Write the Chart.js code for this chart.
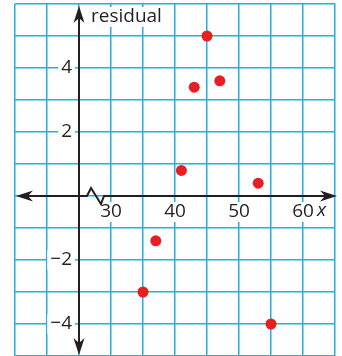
<!DOCTYPE html>
<html>
<head>
<meta charset="utf-8">
<title>Residual plot</title>
<script src="https://cdn.jsdelivr.net/npm/chart.js@4.4.1/dist/chart.umd.min.js"></script>
<style>
  html, body { margin: 0; padding: 0; background: #fff; }
  #chart-container { width: 342px; height: 356px; }
</style>
</head>
<body>
<div id="chart-container"><canvas id="residual-chart" width="342" height="356"></canvas></div>
<script>
// values
const xValues = [35, 37, 41, 43, 45, 47, 53, 55];
const residuals = [-3, -1.4, 0.8, 3.4, 5, 3.6, 0.4, -4];
const xTickLabels = [30, 40, 50, 60];
const yTickLabels = [4, 2, -2, -4];
const xAxisTitle = "x";
const yAxisTitle = "residual";
const yAxisAt = 25; // the y axis sits at x = 25 (broken x axis)

const inkColor = "#231f20";
const gridColor = "#1eb0e8";
const dotColor = "#ec1c24";
const labelFont = '19px "Open Sans", sans-serif';

// white box behind a text so the grid lines get cut around it
function boxedText(ctx, text, x, y, align, font) {
    ctx.font = font || labelFont;
    ctx.textAlign = align;
    ctx.textBaseline = "middle";
    const w = ctx.measureText(text).width;
    let left = x;
    if (align === "center") left = x - w / 2;
    if (align === "right") left = x - w;
    ctx.fillStyle = "#fff";
    ctx.fillRect(left - 3, y - 10, w + 6, 20);
    ctx.fillStyle = inkColor;
    ctx.fillText(text, x, y);
    return w;
}

// Draw axes, arrows, axis break and labels on top of the grid
const axesPlugin = {
    id: "axesPlugin",
    beforeDatasetsDraw(chart) {
        const ctx = chart.ctx;
        const xs = chart.scales.x;
        const ys = chart.scales.y;
        const area = chart.chartArea;
        const ox = xs.getPixelForValue(yAxisAt);
        const oy = ys.getPixelForValue(0);
        ctx.save();

        // tick labels
        yTickLabels.forEach(v => {
            const txt = v < 0 ? "\u2212" + Math.abs(v) : String(v);
            boxedText(ctx, txt, ox - 7, ys.getPixelForValue(v), "right");
        });
        xTickLabels.forEach(v => {
            boxedText(ctx, String(v), xs.getPixelForValue(v), oy + 16, "center");
        });
        // italic x after the last tick
        const lastX = xs.getPixelForValue(xTickLabels[xTickLabels.length - 1]);
        boxedText(ctx, xAxisTitle, lastX + 14, oy + 15, "left", 'italic 19px "Open Sans", sans-serif');
        boxedText(ctx, yAxisTitle, ox + 12, area.top + 13, "left");

        ctx.strokeStyle = inkColor;
        ctx.fillStyle = inkColor;
        ctx.lineWidth = 2;
        ctx.lineJoin = "miter";

        const leftTip = area.left + 1;
        const rightTip = area.right + 2;
        const topTip = area.top + 2;
        const bottomTip = area.bottom - 1;

        // x axis with zigzag break just right of the y axis
        ctx.beginPath();
        ctx.moveTo(leftTip + 12, oy);
        ctx.lineTo(ox + 8, oy);
        ctx.lineTo(ox + 12, oy - 8);
        ctx.lineTo(ox + 22, oy + 8);
        ctx.lineTo(ox + 25, oy);
        ctx.lineTo(rightTip - 12, oy);
        ctx.stroke();

        // y axis
        ctx.beginPath();
        ctx.moveTo(ox, topTip + 10);
        ctx.lineTo(ox, bottomTip - 10);
        ctx.stroke();

        // arrow heads (tip, back corner, notch, back corner)
        function arrow(tx, ty, dx, dy) {
            const px = -dy, py = dx;
            ctx.beginPath();
            ctx.moveTo(tx, ty);
            ctx.lineTo(tx - dx * 17 + px * 5.5, ty - dy * 17 + py * 5.5);
            ctx.lineTo(tx - dx * 12, ty - dy * 12);
            ctx.lineTo(tx - dx * 17 - px * 5.5, ty - dy * 17 - py * 5.5);
            ctx.closePath();
            ctx.fill();
        }
        arrow(leftTip, oy, -1, 0);
        arrow(rightTip, oy, 1, 0);
        arrow(ox, topTip, 0, -1);
        arrow(ox, bottomTip, 0, 1);

        ctx.restore();
    }
};

const points = xValues.map((x, i) => ({ x: x, y: residuals[i] }));

new Chart(document.getElementById("residual-chart"), {
    type: "scatter",
    data: {
        datasets: [{
            label: "residual",
            data: points,
            backgroundColor: dotColor,
            borderWidth: 0,
            pointRadius: 5.5,
            pointHoverRadius: 5.5,
        }],
    },
    options: {
        responsive: false,
        animation: false,
        layout: { autoPadding: false, padding: { left: 15, right: 7, top: 4, bottom: 0 } },
        plugins: {
            legend: { display: false },
            tooltip: { enabled: false },
        },
        scales: {
            x: {
                type: "linear",
                min: 15,
                max: 65,
                ticks: { display: false, stepSize: 5 },
                grid: { color: gridColor, lineWidth: 1.5, drawTicks: false },
                border: { display: false },
            },
            y: {
                type: "linear",
                min: -5,
                max: 6,
                ticks: { display: false, stepSize: 1 },
                grid: { color: gridColor, lineWidth: 1.5, drawTicks: false },
                border: { display: false },
            },
        },
    },
    plugins: [axesPlugin],
});
</script>
</body>
</html>
